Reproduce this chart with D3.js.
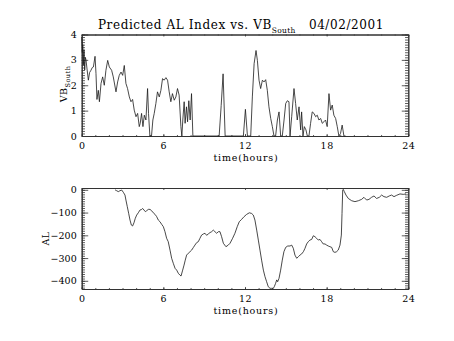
<!DOCTYPE html>
<html><head><meta charset="utf-8">
<script src="https://cdn.jsdelivr.net/npm/d3@7"></script>
<style>
body{margin:0;background:#fff;}
svg{display:block;}
text{font-family:"DejaVu Serif","Liberation Serif",serif;fill:#000;}
</style></head><body>
<svg id="c" width="454" height="341"></svg>
<script>
// ---- data ----
const titleMain = "Predicted AL Index vs. VB";
const titleSub = "South";
const titleDate = "04/02/2001";
const xLabel = "time(hours)";
const xTicks = [0, 6, 12, 18, 24];
const vbTicks = [0, 1, 2, 3, 4];
const alTicks = [0, -100, -200, -300, -400];

const vbHours = [0.00,0.04,0.08,0.12,0.17,0.22,0.27,0.32,0.40,0.49,0.58,0.68,0.78,0.86,0.98,1.05,1.12,1.22,1.30,1.42,1.54,1.66,1.78,1.91,2.03,2.20,2.32,2.52,2.64,2.76,2.89,3.01,3.13,3.25,3.37,3.50,3.62,3.74,3.86,3.99,4.11,4.23,4.30,4.40,4.50,4.60,4.72,4.84,4.91,5.01,5.13,5.23,5.33,5.45,5.57,5.70,5.82,5.94,6.06,6.19,6.31,6.43,6.55,6.67,6.80,6.92,7.04,7.16,7.29,7.36,7.43,7.53,7.60,7.70,7.78,7.87,7.97,8.07,8.17,10.10,10.25,10.39,10.54,11.88,12.03,12.18,12.42,12.54,12.67,12.81,12.91,13.03,13.15,13.28,13.40,13.52,13.64,13.76,13.89,14.01,14.13,14.25,14.38,14.50,14.62,14.74,14.87,14.99,15.11,15.23,15.31,15.43,15.60,15.72,15.84,15.97,16.09,16.16,16.26,16.36,16.48,16.58,16.70,16.82,16.94,17.07,17.19,17.31,17.43,17.56,17.68,17.80,17.92,18.04,18.17,18.29,18.41,18.53,18.66,18.78,18.90,19.02,19.14,19.27,19.39];
const vbValues = [3.9,3.3,3.6,2.8,3.4,2.6,3.1,2.98,2.6,2.2,2.5,2.59,2.7,2.72,3.14,2.46,1.44,1.80,1.35,2.07,2.33,2.00,2.59,2.98,2.72,2.59,2.33,1.74,2.13,2.39,2.52,2.39,2.78,2.07,1.87,1.54,1.35,1.44,1.02,0.76,0.89,0.37,0.50,0.89,0.37,0.82,0.63,1.87,0.89,0,0,0.63,0.89,1.28,1.74,1.54,1.80,2.26,2.20,2.30,2.20,1.74,1.35,1.67,1.41,1.54,1.87,1.61,0.37,0,0.63,1.35,0.50,1.15,0.56,1.39,0.63,1.67,0,0,1.2,2.45,0,0,1.05,0,0,1.54,2.85,3.37,2.98,2.20,1.87,2.20,2.13,2.22,1.80,1.15,0.69,0.37,0,0,0.63,0.95,0,0,0.63,1.28,1.39,1.35,0,0.76,1.87,1.28,0.63,1.15,0.24,0.95,0,0.37,0.24,0,0,0.50,0.95,0.89,0.76,0.82,0.63,0.69,0.50,0.56,0.63,0.37,1.67,1.02,1.22,0.82,0.69,0.37,0,0.10,0.43,0,0];

const alHours = [2.45,2.57,2.69,2.81,2.94,3.06,3.18,3.25,3.35,3.45,3.55,3.65,3.74,3.84,3.94,4.04,4.16,4.28,4.41,4.48,4.58,4.68,4.77,4.90,5.02,5.14,5.26,5.39,5.51,5.63,5.75,5.88,6.00,6.12,6.24,6.36,6.49,6.61,6.73,6.86,6.98,7.10,7.22,7.30,7.42,7.52,7.61,7.71,7.83,7.96,8.08,8.20,8.32,8.45,8.57,8.69,8.81,8.94,9.06,9.18,9.30,9.43,9.55,9.67,9.79,9.92,10.04,10.16,10.28,10.41,10.60,10.77,10.90,11.09,11.26,11.43,11.58,11.75,11.93,12.12,12.32,12.49,12.61,12.73,12.86,12.98,13.10,13.22,13.35,13.47,13.59,13.71,13.84,13.96,14.08,14.15,14.25,14.33,14.40,14.50,14.62,14.74,14.86,14.99,15.14,15.31,15.43,15.55,15.67,15.80,15.92,16.04,16.16,16.29,16.41,16.53,16.65,16.77,16.90,17.02,17.14,17.26,17.39,17.51,17.63,17.75,17.88,18.00,18.12,18.24,18.37,18.49,18.61,18.73,18.85,18.98,19.08,19.13,19.18,19.22,19.30,19.42,19.59,19.84,20.08,20.33,20.57,20.74,20.94,21.11,21.30,21.48,21.67,21.87,22.04,22.21,22.41,22.60,22.77,22.95,23.15,23.39,23.63,23.83];
const alValues = [0,-4,-8,-4,-1,-11,-23,-45,-74,-103,-133,-155,-159,-145,-125,-111,-101,-89,-86,-82,-89,-96,-92,-86,-86,-92,-101,-108,-118,-133,-140,-152,-162,-184,-213,-228,-265,-301,-323,-345,-353,-367,-375,-379,-353,-331,-309,-287,-279,-272,-265,-254,-243,-232,-228,-213,-199,-194,-191,-200,-194,-188,-184,-177,-184,-191,-184,-184,-206,-235,-250,-243,-235,-213,-191,-162,-140,-130,-118,-108,-101,-104,-111,-133,-177,-221,-265,-309,-353,-382,-404,-426,-433,-433,-433,-426,-411,-396,-404,-389,-353,-309,-272,-253,-247,-247,-243,-257,-287,-301,-294,-287,-282,-272,-257,-238,-228,-221,-218,-202,-206,-213,-221,-218,-228,-238,-238,-243,-247,-250,-253,-272,-275,-272,-265,-243,-199,-104,-1,2,-8,-23,-38,-48,-52,-48,-42,-33,-45,-42,-33,-27,-38,-33,-23,-30,-33,-27,-23,-30,-24,-18,-20,-18];

// ---- layout ----
const svg = d3.select("#c");
const FONT = "DejaVu Serif";
const L = 81.7, R = 408.3;
const panels = [
  {top:34.5, bot:136, domain:[0,4], ticks:vbTicks, minorStep:0.1, hours:vbHours, vals:vbValues},
  {top:188, bot:289, domain:[-436,8], ticks:alTicks, minorStep:10, hours:alHours, vals:alValues}
];
const x = d3.scaleLinear().domain([0,24]).range([L,R]);
const xMinor = d3.range(0,24.001,1);

panels.forEach((p,i)=>{
  const y = d3.scaleLinear().domain(p.domain).range([p.bot,p.top]);
  const W = R-L, H = p.bot-p.top;
  const yMinor = d3.range(Math.ceil(p.domain[0]/p.minorStep)*p.minorStep, p.domain[1]+1e-9, p.minorStep);
  const g = svg.append("g");
  const style = sel => { sel.attr("font-family",FONT); sel.select(".domain").attr("stroke","#333").attr("stroke-width",1); sel.selectAll(".tick line").attr("stroke","#333").attr("stroke-width",0.8); };
  // bottom axis with labels
  g.append("g").attr("transform",`translate(0,${p.bot})`)
    .call(d3.axisBottom(x).tickValues(xTicks).tickSize(-H*0.02).tickSizeOuter(0).tickPadding(6).tickFormat(d3.format("d")))
    .call(style).call(s=>s.selectAll("text").attr("font-size",9.5).attr("letter-spacing",0.5));
  g.append("g").attr("transform",`translate(0,${p.bot})`)
    .call(d3.axisBottom(x).tickValues(xMinor).tickSize(-H*0.01).tickSizeOuter(0).tickFormat(""))
    .call(style);
  // top axis
  g.append("g").attr("transform",`translate(0,${p.top})`)
    .call(d3.axisTop(x).tickValues(xTicks).tickSize(-H*0.02).tickSizeOuter(0).tickFormat(""))
    .call(style);
  g.append("g").attr("transform",`translate(0,${p.top})`)
    .call(d3.axisTop(x).tickValues(xMinor).tickSize(-H*0.01).tickSizeOuter(0).tickFormat(""))
    .call(style);
  // left axis
  g.append("g").attr("transform",`translate(${L},0)`)
    .call(d3.axisLeft(y).tickValues(p.ticks).tickSize(-W*0.02).tickSizeOuter(0).tickPadding(5).tickFormat(d3.format("d")))
    .call(style).call(s=>s.selectAll("text").attr("font-size",9.5));
  g.append("g").attr("transform",`translate(${L},0)`)
    .call(d3.axisLeft(y).tickValues(yMinor).tickSize(-W*0.01).tickSizeOuter(0).tickFormat(""))
    .call(style);
  // right axis
  g.append("g").attr("transform",`translate(${R},0)`)
    .call(d3.axisRight(y).tickValues(p.ticks).tickSize(-W*0.02).tickSizeOuter(0).tickFormat(""))
    .call(style);
  g.append("g").attr("transform",`translate(${R},0)`)
    .call(d3.axisRight(y).tickValues(yMinor).tickSize(-W*0.01).tickSizeOuter(0).tickFormat(""))
    .call(style);
  // data line
  const pts = p.hours.map((h,k)=>[h,p.vals[k]]);
  g.append("path").datum(pts)
    .attr("fill","none").attr("stroke","#1a1a1a").attr("stroke-width",0.8)
    .attr("d", d3.line().x(d=>x(d[0])).y(d=>y(d[1])));
  // x title
  g.append("text").attr("x",(L+R)/2+1).attr("y",p.bot+24.5).attr("text-anchor","middle")
    .attr("font-size",9.5).attr("letter-spacing",0.8).text(xLabel);
});

// y titles
const vbT = svg.append("text").attr("transform","translate(67,84) rotate(-90)").attr("text-anchor","middle").attr("font-size",9.5).attr("letter-spacing",0.5);
vbT.append("tspan").text("VB");
vbT.append("tspan").attr("font-size",6.5).attr("dy",3).text(titleSub);
svg.append("text").attr("transform","translate(49,238.5) rotate(-90)").attr("text-anchor","middle").attr("font-size",9.5).attr("letter-spacing",0.5).text("AL");

// title
const t = svg.append("text").attr("x",241).attr("y",28.5).attr("text-anchor","middle").attr("font-size",12).attr("letter-spacing",0.6);
t.append("tspan").text(titleMain);
t.append("tspan").attr("font-size",7.5).attr("letter-spacing",0.3).attr("dy",4.5).text(titleSub);
t.append("tspan").attr("dy",-4.5).text("\u00a0\u00a0\u00a0" + titleDate);
</script>
</body></html>
